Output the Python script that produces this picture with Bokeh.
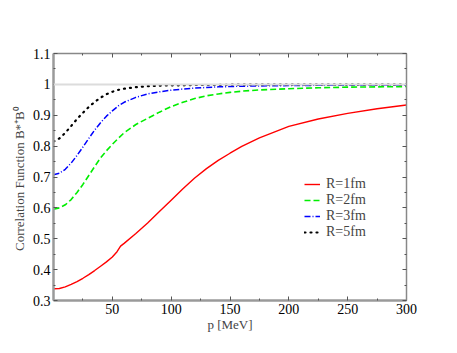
from bokeh.plotting import figure
from bokeh.models import LinearAxis, FixedTicker, Span, Legend, LegendItem, Range1d
from bokeh.embed import file_html
from bokeh.resources import INLINE

# Data
p_r1 = [0, 5, 10, 15, 20, 25, 30, 35, 40, 45, 50, 54, 57, 60, 70, 80, 90, 100, 110, 120,
        130, 140, 150, 160, 175, 200, 225, 250, 275, 300]
c_r1 = [0.338, 0.339, 0.344, 0.352, 0.361, 0.372, 0.384, 0.397, 0.411, 0.425, 0.441, 0.458,
        0.476, 0.485, 0.517, 0.551, 0.588, 0.625, 0.662, 0.697, 0.727, 0.754, 0.777, 0.799,
        0.827, 0.864, 0.888, 0.906, 0.921, 0.933]

p_grid = [0, 5, 10, 15, 20, 25, 30, 35, 40, 45, 50, 55, 60, 70, 80, 90, 100, 110, 120,
          130, 140, 150, 160, 175, 200, 225, 250, 275, 300]
c_r2 = [0.596, 0.600, 0.610, 0.627, 0.650, 0.676, 0.705, 0.734, 0.762, 0.785, 0.806, 0.825,
        0.843, 0.870, 0.890, 0.910, 0.928, 0.942, 0.954, 0.963, 0.969, 0.974, 0.978, 0.982,
        0.986, 0.989, 0.991, 0.992, 0.993]
c_r3 = [0.707, 0.712, 0.725, 0.745, 0.770, 0.797, 0.825, 0.852, 0.876, 0.897, 0.914, 0.930,
        0.942, 0.958, 0.969, 0.976, 0.981, 0.985, 0.988, 0.990, 0.992, 0.993, 0.994, 0.995,
        0.996, 0.997, 0.997, 0.998, 0.998]
c_r5 = [0.815, 0.825, 0.843, 0.865, 0.888, 0.908, 0.927, 0.943, 0.957, 0.968, 0.976, 0.982,
        0.986, 0.991, 0.994, 0.996, 0.997, 0.997, 0.998, 0.998, 0.998, 0.999, 0.999, 0.999,
        0.999, 0.999, 0.999, 0.999, 0.999]

labels = ["R=1fm", "R=2fm", "R=3fm", "R=5fm"]
x_ticks = [50, 100, 150, 200, 250, 300]
x_minor = [25, 75, 125, 175, 225, 275]
y_ticks = [0.3, 0.4, 0.5, 0.6, 0.7, 0.8, 0.9, 1.0, 1.1]
y_minor = [0.35, 0.45, 0.55, 0.65, 0.75, 0.85, 0.95, 1.05]

FONT = "'Liberation Serif', serif"

p = figure(width=449, height=345, output_backend="svg", toolbar_location=None,
           x_range=Range1d(0, 300), y_range=Range1d(0.3, 1.1),
           min_border_left=53, min_border_right=43, min_border_top=53, min_border_bottom=45)
p.outline_line_color = None
p.xgrid.visible = False
p.ygrid.visible = False
p.background_fill_color = "white"

p.add_layout(Span(location=1.0, dimension="width", line_color="#dcdcdc", line_width=2))

r1 = p.line(p_r1, c_r1, line_color="#ff0000", line_width=1.4)
r2 = p.line(p_grid, c_r2, line_color="#00ee00", line_width=1.6, line_dash="6 3")
r3 = p.line(p_grid, c_r3, line_color="#0000ff", line_width=1.5, line_dash="6 2 1 2")
r5 = p.line(p_grid, c_r5, line_color="#000000", line_width=2.2, line_dash="1 5", line_cap="round")


def style_axis(ax, show_labels=True, axis_width=2.5, axis_color="#9a9a9a"):
    ax.major_tick_in = 4
    ax.major_tick_out = 0
    ax.minor_tick_in = 2
    ax.minor_tick_out = 0
    ax.axis_line_color = axis_color
    ax.axis_line_width = axis_width
    ax.major_tick_line_color = "#555555"
    ax.minor_tick_line_color = "#555555"
    ax.major_label_text_font = FONT
    ax.major_label_text_font_size = "14px"
    ax.major_label_text_color = "black" if show_labels else None
    ax.axis_label_text_font = FONT
    ax.axis_label_text_font_style = "normal"
    ax.axis_label_text_font_size = "13px"


xb = p.xaxis[0]
xb.ticker = FixedTicker(ticks=x_ticks, minor_ticks=x_minor)
xb.axis_label = "p [MeV]"
style_axis(xb)
xb.major_label_standoff = 3
xb.axis_label_standoff = 0

yl = p.yaxis[0]
yl.ticker = FixedTicker(ticks=y_ticks, minor_ticks=y_minor)
yl.major_label_overrides = {1.0: "1", 1.1: "1.1"}
yl.axis_label = "Correlation Function  B*\u207aB\u2070"
style_axis(yl)
yl.major_label_standoff = 3
yl.axis_label_standoff = 3

xt = LinearAxis(ticker=FixedTicker(ticks=x_ticks, minor_ticks=x_minor))
style_axis(xt, show_labels=False, axis_width=1.5, axis_color="#888888")
xt.major_label_text_font_size = "0px"
p.add_layout(xt, "above")

yr = LinearAxis(ticker=FixedTicker(ticks=y_ticks, minor_ticks=y_minor))
style_axis(yr, show_labels=False, axis_width=1.5, axis_color="#888888")
yr.major_label_text_font_size = "0px"
p.add_layout(yr, "right")

legend = Legend(items=[LegendItem(label=labels[0], renderers=[r1]),
                       LegendItem(label=labels[1], renderers=[r2]),
                       LegendItem(label=labels[2], renderers=[r3]),
                       LegendItem(label=labels[3], renderers=[r5])],
                location=(251, 60))
legend.background_fill_alpha = 0
legend.border_line_color = None
legend.padding = 0
legend.margin = 0
legend.spacing = 0
legend.label_height = 14
legend.glyph_height = 14
legend.glyph_width = 16
legend.label_standoff = 6
legend.label_text_font = FONT
legend.label_text_font_size = "14px"
p.add_layout(legend, "center")

open("out.html", "w").write(file_html(p, INLINE))
